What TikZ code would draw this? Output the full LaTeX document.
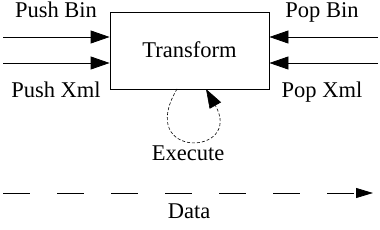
\documentclass[tikz,border=0pt]{standalone}
\usepackage{fontspec}
\setmainfont{Liberation Serif}
\usetikzlibrary{arrows.meta}

\begin{document}
\begin{tikzpicture}[x=1pt,y=-1pt]
\tikzset{
  procnode/.style={draw,line width=0.8pt,minimum width=159pt,minimum height=77pt,inner sep=0pt,font=\fontsize{22.5}{26}\selectfont},
  textnode/.style={anchor=base,inner sep=0pt,font=\fontsize{22.5}{26}\selectfont},
  flow/.style={-{Triangle[length=19pt,width=13pt]},line width=0.8pt},
  execflow/.style={-{Triangle[length=19pt,width=13pt]},line width=0.6pt,dash pattern=on 3pt off 2pt},
  dataflow/.style={-{Triangle[length=17pt,width=10pt]},line width=0.8pt,dash pattern=on 27pt off 27pt}
}
\useasboundingbox (0,0) rectangle (380,230);
\node[procnode] (n_tf) at (189.5,50.5) {};
\node[textnode] (n_tftext) at (189.5,57) {Transform};
\node[textnode] (n_pushbin) at (56,18) {Push Bin};
\node[textnode] (n_pushxml) at (56,97) {Push Xml};
\node[textnode] (n_popbin) at (322,18) {Pop Bin};
\node[textnode] (n_popxml) at (322,97) {Pop Xml};
\node[textnode] (n_exec) at (188,160) {Execute};
\node[textnode] (n_data) at (189,218) {Data};
\coordinate (c_pushbin) at (3,37);
\coordinate (c_pushxml) at (3,63);
\coordinate (c_popbin) at (378,37);
\coordinate (c_popxml) at (378,63);
\coordinate (c_exs) at (177,89);
\coordinate (c_exe) at (206,89);
\coordinate (c_ds) at (3,193);
\coordinate (c_de) at (373,193);
\draw[flow] (c_pushbin) -- (c_pushbin -| n_tf.west);
\draw[flow] (c_pushxml) -- (c_pushxml -| n_tf.west);
\draw[flow] (c_popbin) -- (c_popbin -| n_tf.east);
\draw[flow] (c_popxml) -- (c_popxml -| n_tf.east);
\draw[execflow] (c_exs) .. controls (135,160) and (244,156) .. (c_exe);
\draw[dataflow] (c_ds) -- (c_de);
\end{tikzpicture}
\end{document}
